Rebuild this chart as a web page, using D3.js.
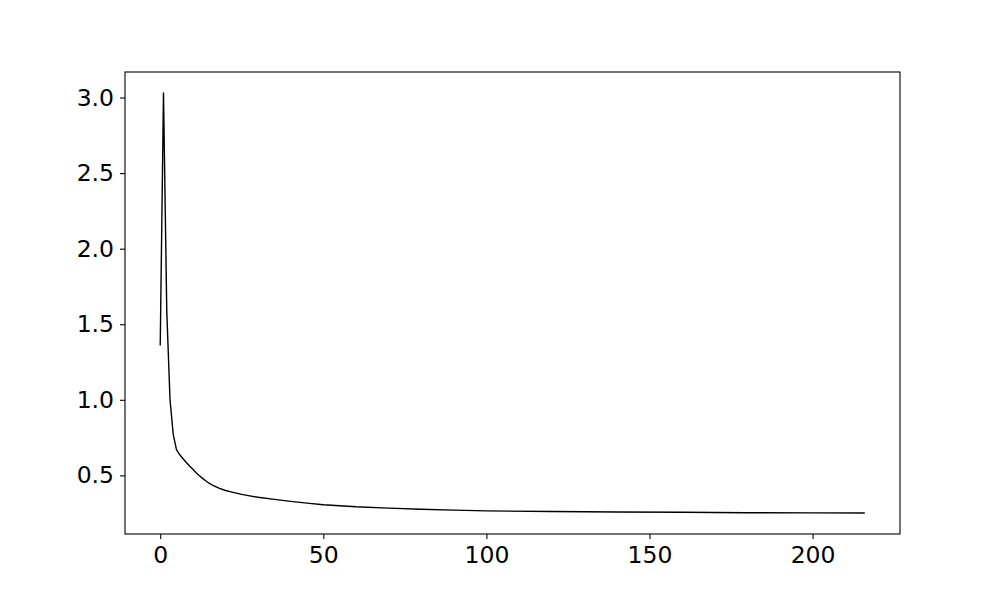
<!DOCTYPE html>
<html>
<head>
<meta charset="utf-8">
<script src="https://cdn.jsdelivr.net/npm/d3@7"></script>
<style>
  body { margin: 0; background: #fff; }
  text { font-family: "DejaVu Sans", sans-serif; }
</style>
</head>
<body>
<div id="grafica"></div>
<script>
// valores
var pasos = [0, 1, 2, 3, 4, 5, 6, 7, 8, 9, 10, 11, 12, 13, 14, 15, 16, 18, 20, 22, 25, 27, 30, 35, 40, 45, 50, 60, 70, 80, 90, 100, 120, 140, 160, 180, 200, 216];
var valores = [1.36, 3.03, 1.59, 1.0, 0.77, 0.668, 0.636, 0.61, 0.585, 0.562, 0.54, 0.518, 0.498, 0.48, 0.463, 0.448, 0.436, 0.416, 0.40, 0.389, 0.374, 0.366, 0.355, 0.341, 0.328, 0.316, 0.306, 0.292, 0.283, 0.276, 0.27, 0.265, 0.261, 0.258, 0.256, 0.253, 0.252, 0.251];
var ticksX = [0, 50, 100, 150, 200];
var ticksY = [0.5, 1.0, 1.5, 2.0, 2.5, 3.0];

grafica();

function grafica(){
	var W = 1000, H = 600;
	var margin = {top: 72, bottom: 66, left: 125, right: 100};
	var ancho = W - margin.left - margin.right;
	var alto = H - margin.top - margin.bottom;

	var svg = d3.select("#grafica")
		.append("svg")
		.attr("width", W)
		.attr("height", H)
		.append("g")
		.attr("transform", "translate(" + margin.left + "," + margin.top + ")");

	var data = pasos.map((p, i) => ({x: p, y: valores[i]}));

	// dominios con 5% de margen como matplotlib
	var ex = d3.extent(pasos), ey = d3.extent(valores);
	var dx = (ex[1] - ex[0]) * 0.05, dy = (ey[1] - ey[0]) * 0.05;

	var escalaX = d3.scaleLinear().domain([ex[0] - dx, ex[1] + dx]).range([0, ancho]);
	var escalaY = d3.scaleLinear().domain([ey[0] - dy, ey[1] + dy]).range([alto, 0]);

	var ejeX = svg.append("g")
		.attr("transform", "translate(0," + alto + ")")
		.call(d3.axisBottom(escalaX).tickValues(ticksX).tickSize(5).tickPadding(6).tickFormat(d3.format("d")));
	var ejeY = svg.append("g")
		.call(d3.axisLeft(escalaY).tickValues(ticksY).tickSize(5).tickPadding(6).tickFormat(d3.format(".1f")));

	[ejeX, ejeY].forEach(function(e){
		e.select(".domain").remove();
		e.selectAll("line").attr("stroke", "#000").attr("stroke-width", 1.1);
		e.selectAll("text").style("font-size", "23.5px").attr("fill", "#000");
	});
	ejeX.selectAll("text").attr("dy", "0.76em");

	// marco
	svg.append("rect")
		.attr("width", ancho)
		.attr("height", alto)
		.attr("fill", "none")
		.attr("stroke", "#000")
		.attr("stroke-width", 1.1);

	svg.append("path")
		.datum(data)
		.attr("d", d3.line().x(d => escalaX(d.x)).y(d => escalaY(d.y)))
		.style("fill", "none")
		.style("stroke", "#000")
		.style("stroke-width", "1.4px")
		.style("stroke-linejoin", "round");
}
</script>
</body>
</html>
